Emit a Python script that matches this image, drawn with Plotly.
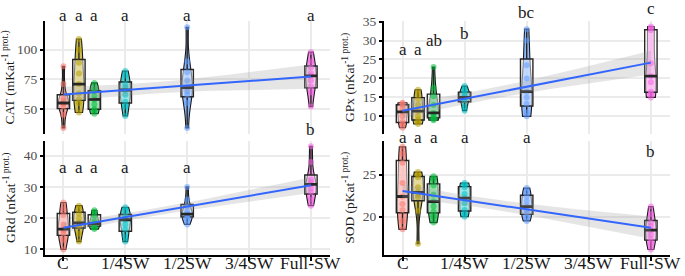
import numpy as np
import plotly.graph_objects as go

# ---------------- data ----------------
group_x = [0.0, 0.0625, 0.125, 0.25, 0.5, 1.0]
group_colors = ["#F8766D", "#B79F00", "#00BA38", "#00BFC4", "#619CFF", "#F564E3"]
tick_vals = [0, 0.25, 0.5, 0.75, 1.0]
tick_text = ["C", "1/4SW", "1/2SW", "3/4SW", "Full-SW"]

cat_values = [
    [34, 45, 52, 54, 55, 57, 59, 71, 86],
    [47, 55, 58, 63, 71, 80, 89, 100, 109],
    [46, 49, 50, 54, 58, 61, 65, 67, 72],
    [44, 52, 56, 62, 66, 68, 71, 78, 82],
    [34, 55, 62, 65, 68, 74, 81, 90, 119],
    [52, 64, 69, 74, 78, 80, 85, 90, 98],
]
grd_values = [
    [10, 13, 15, 16, 16.5, 18, 21, 23, 25],
    [12.5, 15, 17.5, 18, 18.5, 20, 21.5, 23, 24],
    [16.5, 17, 17.6, 18, 18.3, 19, 20.8, 22, 22.5],
    [12.5, 14, 16.4, 18, 19.5, 20, 20.7, 22.5, 23.5],
    [18, 19.5, 20.7, 21, 21.3, 22, 23.8, 26, 30],
    [24, 26, 28.3, 29.5, 30.8, 31.5, 32.4, 38, 43],
]
gpx_values = [
    [7, 8, 8.5, 10, 11.2, 12, 13, 13.3, 13.6],
    [8, 8.5, 9.2, 10, 11.4, 13, 14.6, 16, 17],
    [9, 9.3, 9.7, 10.2, 10.9, 13, 15.3, 17.5, 23],
    [11.5, 12.5, 14.3, 14.8, 15, 15.6, 16.2, 17, 18],
    [10, 11, 13.3, 15, 16.5, 20, 23.5, 30, 33],
    [15, 16, 16.5, 19, 20.6, 24, 32.7, 33.3, 33.7],
]
sod_values = [
    [18.5, 19.5, 20.8, 21.5, 22.4, 24, 26.4, 27.5, 28.3],
    [16.8, 20.7, 22.3, 22.6, 22.9, 23.5, 24.7, 25, 25.3],
    [19.3, 20, 20.6, 21.2, 21.8, 22.6, 23.7, 24.5, 24.8],
    [20, 20.3, 20.8, 21.6, 22.2, 22.7, 23.5, 23.8, 24],
    [19.5, 19.9, 20.4, 20.8, 21.2, 21.8, 22.4, 23, 23.4],
    [16.1, 16.8, 17.35, 17.9, 18.4, 18.9, 19.3, 20.3, 21.2],
]

cat_letters = ["a", "a", "a", "a", "a", "a"]
grd_letters = ["a", "a", "a", "a", "a", "b"]
gpx_letters = ["a", "a", "ab", "b", "bc", "c"]
sod_letters = ["a", "a", "a", "a", "a", "b"]

# ---------------- layout / style ----------------
SERIF = "Liberation Serif"
W, H = 685, 276


def px_x(a, b):
    return [a / W, b / W]


def px_y(top, bottom):
    return [(H - bottom) / H, (H - top) / H]


panels = [
    dict(vals=cat_values, letters=cat_letters, letter_y=[128.7] * 6,
         xdom=px_x(45, 330), ydom=px_y(15, 132), yrange=[28.7, 124.6],
         ytick=[50, 75, 100], title="CAT (mKat<sup>-1</sup><sup> prot.)</sup>", bottom=False),
    dict(vals=gpx_values, letters=gpx_letters, letter_y=[27.6, 27.6, 30.0, 31.9, 37.3, 38.4],
         xdom=px_x(384, 670), ydom=px_y(15, 132), yrange=[5.3, 35.26],
         ytick=[10, 15, 20, 25, 30, 35], title="GPx (nKat<sup>-1</sup><sup> prot.)</sup>", bottom=False),
    dict(vals=grd_values, letters=grd_letters, letter_y=[36.1] * 5 + [48.4],
         xdom=px_x(45, 330), ydom=px_y(139, 256), yrange=[8.35, 44.7],
         ytick=[10, 20, 30, 40], title="GRd (nKat<sup>-1</sup><sup> prot.)</sup>", bottom=True),
    dict(vals=sod_values, letters=sod_letters, letter_y=[29.46] * 5 + [27.7],
         xdom=px_x(384, 670), ydom=px_y(139, 256), yrange=[15.5, 29.0],
         ytick=[20, 25], title="SOD (pKat<sup>-1</sup><sup> prot.)</sup>", bottom=True),
]

VIOLIN_W = 0.042
BOX_W = 0.05
XRANGE = [-0.0745, 1.077]
XLABEL_Y = (H - 265) / H  # paper y of the x tick label centres


def rgba(hexc, a):
    h = hexc.lstrip("#")
    r, g, b = int(h[0:2], 16), int(h[2:4], 16), int(h[4:6], 16)
    return f"rgba({r},{g},{b},{a})"


fig = go.Figure()
annotations = []

for k, p in enumerate(panels):
    xa = "x" if k == 0 else f"x{k+1}"
    ya = "y" if k == 0 else f"y{k+1}"
    vals = p["vals"]
    # violins
    for gx, col, v in zip(group_x, group_colors, vals):
        fig.add_trace(go.Violin(
            x0=gx, y=v, xaxis=xa, yaxis=ya, width=VIOLIN_W, scalegroup=f"p{k}",
            scalemode="width", spanmode="hard", points=False,
            line=dict(color="#1a1a1a", width=1.1), fillcolor=rgba(col, 0.7),
            box=dict(visible=False), meanline=dict(visible=False),
            showlegend=False, hoverinfo="skip"))
    # points
    for gx, col, v in zip(group_x, group_colors, vals):
        fig.add_trace(go.Scatter(
            x=[gx] * len(v), y=v, xaxis=xa, yaxis=ya, mode="markers",
            marker=dict(color=rgba(col, 0.55), size=6, line=dict(width=0)),
            showlegend=False, hoverinfo="skip"))
    # boxes
    for gx, col, v in zip(group_x, group_colors, vals):
        fig.add_trace(go.Box(
            x0=gx, y=v, xaxis=xa, yaxis=ya, width=BOX_W, boxpoints=False,
            fillcolor="rgba(255,255,255,0.45)", line=dict(color="#262626", width=1.4),
            whiskerwidth=0, showlegend=False, hoverinfo="skip"))
        med = float(np.median(v))
        fig.add_trace(go.Scatter(
            x=[gx - BOX_W / 2, gx + BOX_W / 2], y=[med, med], xaxis=xa, yaxis=ya,
            mode="lines", line=dict(color="#262626", width=2.8),
            showlegend=False, hoverinfo="skip"))
    # linear fit with 95% CI
    xs = np.concatenate([[gx] * len(v) for gx, v in zip(group_x, vals)]).astype(float)
    ys = np.concatenate([np.asarray(v, float) for v in vals])
    n = len(xs)
    slope, inter = np.polyfit(xs, ys, 1)
    resid = ys - (inter + slope * xs)
    s = np.sqrt(np.sum(resid ** 2) / (n - 2))
    xg = np.linspace(min(group_x), max(group_x), 80)
    yg = inter + slope * xg
    se = s * np.sqrt(1 / n + (xg - xs.mean()) ** 2 / np.sum((xs - xs.mean()) ** 2))
    tcrit = 2.007
    fig.add_trace(go.Scatter(
        x=np.concatenate([xg, xg[::-1]]), y=np.concatenate([yg + tcrit * se, (yg - tcrit * se)[::-1]]),
        xaxis=xa, yaxis=ya, fill="toself", fillcolor="rgba(153,153,153,0.25)",
        line=dict(width=0), mode="lines", showlegend=False, hoverinfo="skip"))
    fig.add_trace(go.Scatter(
        x=xg, y=yg, xaxis=xa, yaxis=ya, mode="lines",
        line=dict(color="#3366FF", width=2), showlegend=False, hoverinfo="skip"))
    # letters (placed in paper coords converted from data values, so not hidden off-range)
    y0, y1 = p["yrange"]
    d0, d1 = p["ydom"]
    for gx, lt, ly in zip(group_x, p["letters"], p["letter_y"]):
        py = d0 + (ly - y0) / (y1 - y0) * (d1 - d0)
        annotations.append(dict(x=gx, y=py, xref=xa, yref="paper", text=lt, showarrow=False,
                                yanchor="middle",
                                font=dict(family=SERIF, size=17, color="#1a1a1a")))
    # x tick labels for bottom panels
    if p["bottom"]:
        for tv, tt in zip(tick_vals, tick_text):
            annotations.append(dict(x=tv, y=XLABEL_Y, xref=xa, yref="paper", text=tt,
                                    showarrow=False, yanchor="middle",
                                    font=dict(family=SERIF, size=17.5, color="#1a1a1a")))

    xkey = "xaxis" if k == 0 else f"xaxis{k+1}"
    ykey = "yaxis" if k == 0 else f"yaxis{k+1}"
    fig.layout[xkey] = dict(
        domain=p["xdom"], range=XRANGE, anchor=ya, tickvals=tick_vals,
        showticklabels=False,
        showgrid=True, gridcolor="#EBEBEB", gridwidth=1.5, zeroline=False,
        showline=p["bottom"], linecolor="black", linewidth=2,
        ticks="outside" if p["bottom"] else "", ticklen=4, tickwidth=1.5, tickcolor="black")
    fig.layout[ykey] = dict(
        domain=p["ydom"], range=p["yrange"], anchor=xa, tickvals=p["ytick"],
        showgrid=True, gridcolor="#EBEBEB", gridwidth=1.5, zeroline=False,
        showline=True, linecolor="black", linewidth=2,
        ticks="outside", ticklen=3, tickwidth=1.5, tickcolor="black",
        tickfont=dict(family=SERIF, size=13.5, color="#4D4D4D"),
        title=dict(text=p["title"], font=dict(family=SERIF, size=13.5, color="#1a1a1a"), standoff=5))

fig.update_layout(
    width=W, height=H, margin=dict(l=0, r=0, t=0, b=0),
    paper_bgcolor="white", plot_bgcolor="white",
    violinmode="overlay", boxmode="overlay", annotations=annotations,
    font=dict(family=SERIF),
    showlegend=False)

fig.write_html("out.html", config={"displayModeBar": False},
               post_script="document.body.style.margin='0';document.body.style.overflow='hidden';")
